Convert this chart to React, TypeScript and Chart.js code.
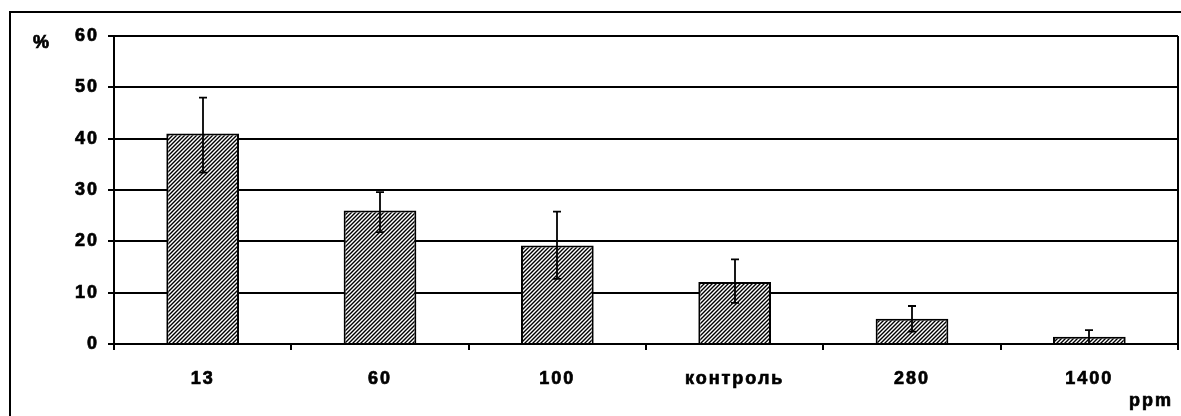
import React, { useEffect, useRef } from "react";
import { Chart, registerables } from "chart.js";

Chart.register(...registerables);

const categories = ["13", "60", "100", "контроль", "280", "1400"];
const values = [41, 26, 19.2, 12.1, 4.9, 1.4];
const errPlus = [7, 3.6, 6.6, 4.4, 2.5, 1.3];
const errMinus = [7.6, 4.2, 6.5, 4.1, 2.5, 1.4];
const yTicks = [0, 10, 20, 30, 40, 50, 60];
const yUnit = "%";
const xUnit = "ppm";

const FONT = "'Liberation Sans', Arial, sans-serif";
const FS = 18;
const STROKE = 0.7;

function makeHatch(): CanvasPattern | string {
  const s = 4;
  const c = document.createElement("canvas");
  c.width = s;
  c.height = s;
  const g = c.getContext("2d");
  if (!g) return "#fff";
  g.fillStyle = "#ffffff";
  g.fillRect(0, 0, s, s);
  g.strokeStyle = "#000000";
  g.lineWidth = 1.4;
  g.beginPath();
  g.moveTo(0, s);
  g.lineTo(s, 0);
  g.moveTo(-1, 1);
  g.lineTo(1, -1);
  g.moveTo(s - 1, s + 1);
  g.lineTo(s + 1, s - 1);
  g.stroke();
  const p = g.createPattern(c, "repeat");
  return p || "#fff";
}

const framePlugin = {
  id: "framePlugin",
  beforeDraw(chart: any) {
    const ctx = chart.ctx;
    ctx.letterSpacing = "2px";
  },
  afterDraw(chart: any) {
    const ctx = chart.ctx;
    const { right, top, bottom } = chart.chartArea;
    ctx.save();
    ctx.letterSpacing = "0px";
    ctx.strokeStyle = "#000";
    ctx.lineWidth = 2;
    ctx.beginPath();
    ctx.moveTo(right, top);
    ctx.lineTo(right, bottom);
    ctx.stroke();
    ctx.lineWidth = 2;
    ctx.strokeRect(10, 12, 1200, 450);
    const meta = chart.getDatasetMeta(0);
    const ys = chart.scales.y;
    ctx.lineWidth = 1.8;
    meta.data.forEach((bar: any, i: number) => {
      const x = Math.round(bar.x);
      const yHi = ys.getPixelForValue(values[i] + errPlus[i]);
      const yLo = ys.getPixelForValue(Math.max(0, values[i] - errMinus[i]));
      ctx.beginPath();
      ctx.moveTo(x, yHi);
      ctx.lineTo(x, yLo);
      ctx.moveTo(x - 4, yHi);
      ctx.lineTo(x + 4, yHi);
      ctx.moveTo(x - 4, yLo);
      ctx.lineTo(x + 4, yLo);
      ctx.stroke();
    });
    ctx.letterSpacing = "2px";
    ctx.fillStyle = "#000";
    ctx.strokeStyle = "#000";
    ctx.lineWidth = STROKE;
    ctx.font = `bold ${FS}px ${FONT}`;
    ctx.textAlign = "center";
    ctx.textBaseline = "middle";
    ctx.fillText(yUnit, 42, 43);
    ctx.strokeText(yUnit, 42, 43);
    ctx.fillText(xUnit, 1151, 401);
    ctx.strokeText(xUnit, 1151, 401);
    ctx.restore();
  },
};

export default function App() {
  const ref = useRef<HTMLCanvasElement | null>(null);
  useEffect(() => {
    if (!ref.current) return;
    const hatch = makeHatch();
    const chart = new Chart(ref.current, {
      type: "bar",
      data: {
        labels: categories,
        datasets: [
          {
            data: values,
            backgroundColor: hatch as any,
            borderColor: "#000",
            borderWidth: 2,
            categoryPercentage: 1,
            barPercentage: 0.41,
          },
        ],
      },
      options: {
        animation: false,
        responsive: false,
        devicePixelRatio: 1,
        layout: { padding: { top: 36, right: 3, left: 0, bottom: 0 } },
        plugins: { legend: { display: false }, tooltip: { enabled: false } },
        scales: {
          x: {
            grid: {
              offset: true,
              drawOnChartArea: false,
              drawTicks: true,
              tickLength: 6,
              color: "#000",
              lineWidth: 2,
            },
            border: { display: true, color: "#000", width: 2 },
            ticks: {
              color: "#000",
              font: { family: FONT, size: FS, weight: "bold" },
              padding: 18,
              maxRotation: 0,
              textStrokeColor: "#000",
              textStrokeWidth: STROKE,
            },
            afterFit(s: any) {
              s.height = 72;
            },
          },
          y: {
            min: 0,
            max: 60,
            afterBuildTicks(s: any) {
              s.ticks = yTicks.map((v) => ({ value: v }));
            },
            grid: {
              color: "#000",
              lineWidth: 2,
              drawTicks: true,
              tickLength: 6,
            },
            border: { display: true, color: "#000", width: 2 },
            ticks: {
              color: "#000",
              font: { family: FONT, size: FS, weight: "bold" },
              padding: 9,
              textStrokeColor: "#000",
              textStrokeWidth: STROKE,
            },
            afterFit(s: any) {
              s.width = 114;
            },
          },
        },
      },
      plugins: [framePlugin],
    });
    return () => chart.destroy();
  }, []);
  return (
    <div style={{ position: "fixed", left: 0, top: 0, width: 1181, height: 416, background: "#fff" }}>
      <canvas ref={ref} width={1181} height={416} style={{ width: 1181, height: 416, display: "block" }} />
    </div>
  );
}
